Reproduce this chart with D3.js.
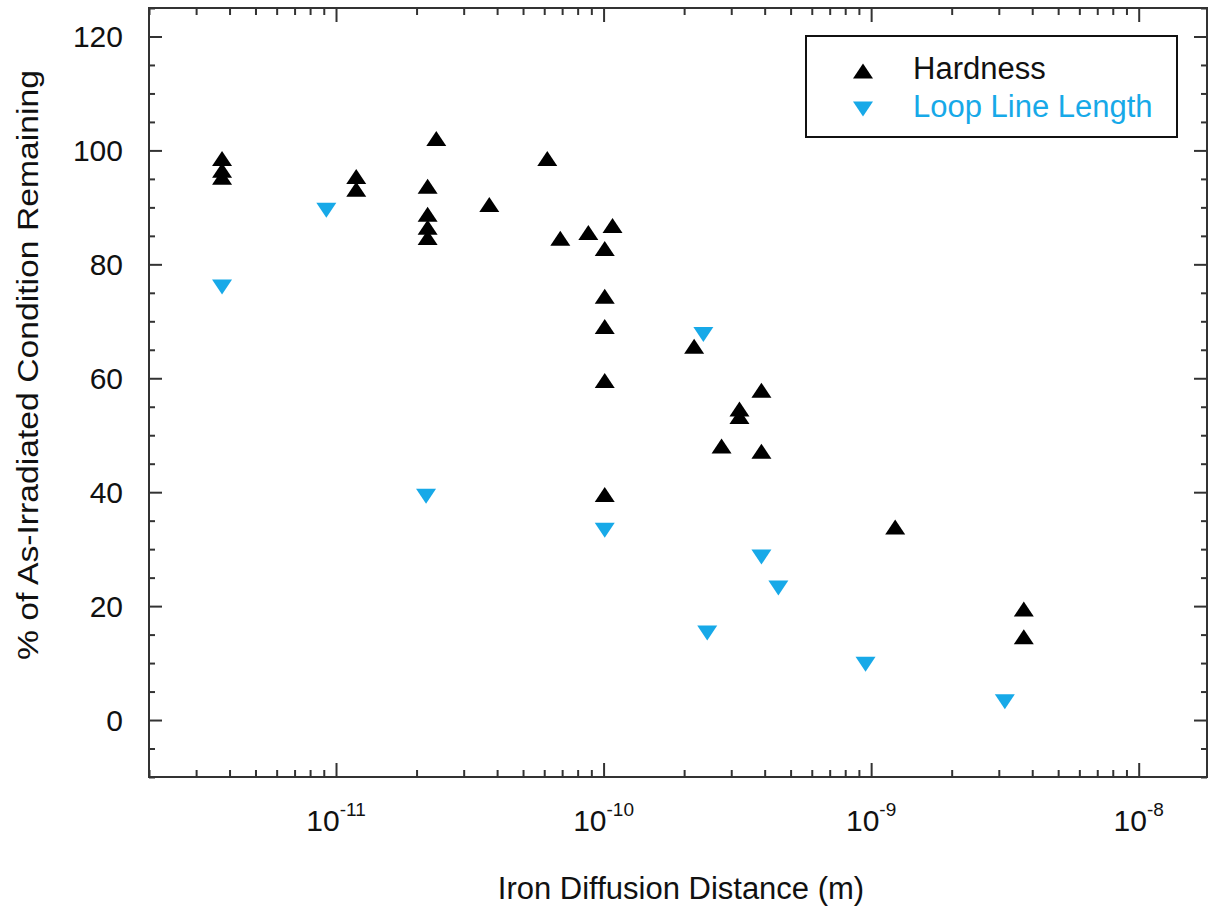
<!DOCTYPE html>
<html>
<head>
<meta charset="utf-8">
<script src="https://cdn.jsdelivr.net/npm/d3@7"></script>
<style>
  body { margin: 0; background: #fff; }
  text { font-family: "Liberation Sans", Arial, sans-serif; }
</style>
</head>
<body>
<svg id="chart" width="1217" height="909"></svg>
<script>
// data
var hardnessX = [3.75e-12, 3.75e-12, 3.75e-12, 1.19e-11, 1.19e-11, 2.2e-11, 2.2e-11, 2.2e-11, 2.2e-11,
                 2.37e-11, 3.74e-11, 6.16e-11, 6.89e-11, 8.77e-11, 1.08e-10, 1.01e-10, 1.01e-10, 1.01e-10,
                 1.01e-10, 1.01e-10, 2.18e-10, 3.89e-10, 3.22e-10, 3.22e-10, 2.76e-10, 3.89e-10, 1.23e-9,
                 3.72e-9, 3.72e-9];
var hardnessY = [98.6, 96.5, 95.3, 95.4, 93.2, 93.7, 88.8, 86.5, 84.7,
                 102.1, 90.5, 98.6, 84.6, 85.6, 86.8, 82.8, 74.4, 69.1,
                 59.6, 39.6, 65.6, 57.9, 54.6, 53.3, 48.1, 47.2, 33.9,
                 19.5, 14.6];
var loopX = [3.75e-12, 9.2e-12, 2.17e-11, 1.01e-10, 2.36e-10, 2.44e-10, 3.89e-10, 4.5e-10, 9.53e-10, 3.16e-9];
var loopY = [76.0, 89.5, 39.3, 33.3, 67.7, 15.3, 28.6, 23.2, 9.8, 3.2];

var seriesNames = ["Hardness", "Loop Line Length"];
var yTickLabels = [0, 20, 40, 60, 80, 100, 120];
var xDecades = [-11, -10, -9, -8];

function main() {
    var svg = d3.select("#chart");
    var margin = {top: 8, right: 10, bottom: 132, left: 149};
    var width = +svg.attr("width") - margin.left - margin.right;
    var height = +svg.attr("height") - margin.top - margin.bottom;
    var black = "#000", blue = "#17a9e8", frame = "#333";

    var x = d3.scaleLog().domain([2e-12, 1.8e-8]).range([0, width]);
    var y = d3.scaleLinear().domain([-10, 125]).range([height, 0]);

    var g = svg.append("g")
        .attr("transform", "translate(" + margin.left + "," + margin.top + ")");

    // ticks: majors at decades, minors at k*10^n
    var xAll = x.ticks();
    var xMajor = xAll.filter(d => Math.abs(Math.log10(d) - Math.round(Math.log10(d))) < 1e-9);
    var xMinor = xAll.filter(d => xMajor.indexOf(d) < 0);
    var yAll = d3.range(-10, 126, 5);
    var yMajor = yAll.filter(d => d % 20 === 0);
    var yMinor = yAll.filter(d => d % 20 !== 0);

    function styleAxis(sel) {
        sel.select(".domain").remove();
        sel.selectAll("line").attr("stroke", frame).attr("stroke-width", 2);
        sel.selectAll("text").remove();
    }

    g.append("g").attr("transform", "translate(0," + height + ")")
        .call(d3.axisBottom(x).tickValues(xMajor).tickSize(-14).tickFormat("")).call(styleAxis);
    g.append("g").attr("transform", "translate(0," + height + ")")
        .call(d3.axisBottom(x).tickValues(xMinor).tickSize(-7).tickFormat("")).call(styleAxis);
    g.append("g")
        .call(d3.axisTop(x).tickValues(xMajor).tickSize(-14).tickFormat("")).call(styleAxis);
    g.append("g")
        .call(d3.axisTop(x).tickValues(xMinor).tickSize(-7).tickFormat("")).call(styleAxis);
    g.append("g")
        .call(d3.axisLeft(y).tickValues(yMajor).tickSize(-13).tickFormat("")).call(styleAxis);
    g.append("g")
        .call(d3.axisLeft(y).tickValues(yMinor).tickSize(-6).tickFormat("")).call(styleAxis);
    g.append("g").attr("transform", "translate(" + width + ",0)")
        .call(d3.axisRight(y).tickValues(yMajor).tickSize(-13).tickFormat("")).call(styleAxis);
    g.append("g").attr("transform", "translate(" + width + ",0)")
        .call(d3.axisRight(y).tickValues(yMinor).tickSize(-6).tickFormat("")).call(styleAxis);

    g.append("rect")
        .attr("width", width).attr("height", height)
        .attr("fill", "none").attr("stroke", frame).attr("stroke-width", 2);

    // y tick labels
    g.selectAll(".ylab").data(yTickLabels).enter().append("text")
        .attr("x", -26)
        .attr("y", d => y(d) + 11)
        .attr("text-anchor", "end")
        .attr("font-size", 30)
        .attr("fill", "#111")
        .text(d => d);

    // x tick labels 10^n
    var xl = g.selectAll(".xlab").data(xDecades).enter().append("text")
        .attr("x", d => x(Math.pow(10, d)))
        .attr("y", height + 54)
        .attr("text-anchor", "middle")
        .attr("font-size", 30)
        .attr("fill", "#111");
    xl.append("tspan").text("10");
    xl.append("tspan").attr("dy", -15).attr("font-size", 19).text(d => d);

    // axis titles
    g.append("text")
        .attr("x", width / 2 + 3)
        .attr("y", height + 122)
        .attr("text-anchor", "middle")
        .attr("font-size", 31)
        .attr("fill", "#111")
        .text("Iron Diffusion Distance (m)");

    svg.append("text")
        .attr("transform", "translate(38,365) rotate(-90)")
        .attr("text-anchor", "middle")
        .attr("font-size", 29)
        .attr("textLength", 590)
        .attr("lengthAdjust", "spacingAndGlyphs")
        .attr("fill", "#111")
        .text("% of As-Irradiated Condition Remaining");

    // markers
    var upTri = { draw: function(ctx) { ctx.moveTo(0, -7.5); ctx.lineTo(10, 7.5); ctx.lineTo(-10, 7.5); ctx.closePath(); } };
    var downTri = { draw: function(ctx) { ctx.moveTo(-10, -7.5); ctx.lineTo(10, -7.5); ctx.lineTo(0, 7.5); ctx.closePath(); } };

    var hardness = hardnessX.map((v, i) => ({x: v, y: hardnessY[i]}));
    var loop = loopX.map((v, i) => ({x: v, y: loopY[i]}));

    g.selectAll(".hard").data(hardness).enter().append("path")
        .attr("d", d3.symbol().type(upTri))
        .attr("transform", d => "translate(" + x(d.x) + "," + y(d.y) + ")")
        .attr("fill", black);

    g.selectAll(".loop").data(loop).enter().append("path")
        .attr("d", d3.symbol().type(downTri))
        .attr("transform", d => "translate(" + x(d.x) + "," + y(d.y) + ")")
        .attr("fill", blue);

    // legend
    var lg = svg.append("g").attr("transform", "translate(806,36)");
    lg.append("rect").attr("width", 371).attr("height", 101)
        .attr("fill", "#fff").attr("stroke", "#111").attr("stroke-width", 2);
    var items = [{name: seriesNames[0], type: upTri, color: black},
                 {name: seriesNames[1], type: downTri, color: blue}];
    items.forEach(function(it, i) {
        lg.append("path")
            .attr("d", d3.symbol().type(it.type))
            .attr("transform", "translate(57," + (35 + i * 38) + ")")
            .attr("fill", it.color);
        lg.append("text")
            .attr("x", 107).attr("y", 43 + i * 38)
            .attr("font-size", 31)
            .attr("fill", it.color === black ? "#111" : blue)
            .text(it.name);
    });
}
main();
</script>
</body>
</html>
